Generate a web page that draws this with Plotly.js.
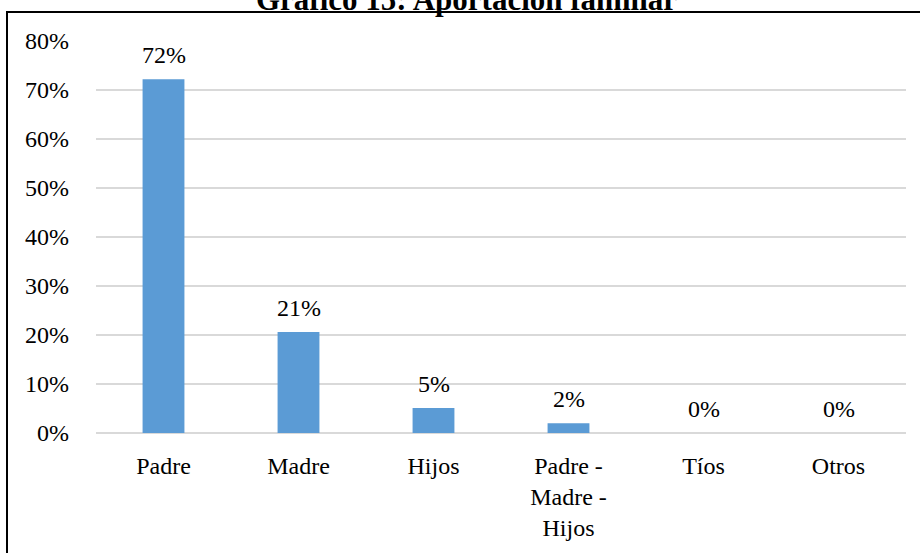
<!DOCTYPE html>
<html>
<head>
<meta charset="utf-8">
<script src="https://cdn.plot.ly/plotly-3.0.1.min.js"></script>
<style>
html,body{margin:0;padding:0;background:#fff;}
#wrap{position:relative;width:920px;height:553px;overflow:hidden;}
#chart{width:920px;height:553px;}
#frame{position:absolute;left:6px;top:11px;width:1000px;height:1000px;border-left:2px solid #000;border-top:2px solid #000;pointer-events:none;}
</style>
</head>
<body>
<div id="wrap"><div id="chart"></div><div id="frame"></div></div>
<script>
const categories = ["Padre", "Madre", "Hijos", "Padre -<br>Madre -<br>Hijos", "Tíos", "Otros"];
const values = [0.722, 0.206, 0.051, 0.020, 0, 0];
const labels = ["72%", "21%", "5%", "2%", "0%", "0%"];
const yTickVals = [0, 0.1, 0.2, 0.3, 0.4, 0.5, 0.6, 0.7, 0.8];
const yTickText = ["0%", "10%", "20%", "30%", "40%", "50%", "60%", "70%", "80%"];
const chartTitle = "Gráfico 15: Aportación familiar";

const font = "'Times New Roman', 'Liberation Serif', serif";

const trace = {
  type: "bar",
  x: categories,
  y: values,
  marker: {color: "#5b9bd5"},
  width: 0.31,
  hoverinfo: "none"
};

const annotations = categories.map((c, i) => ({
  x: c, y: values[i], xref: "x", yref: "y",
  text: labels[i], showarrow: false,
  yanchor: "bottom", yshift: 9,
  font: {family: font, size: 24, color: "#000"}
}));

annotations.push({
  xref: "paper", yref: "paper", x: 0.4568, y: 1.055,
  xanchor: "center", yanchor: "bottom",
  text: "<b>" + chartTitle + "</b>", showarrow: false,
  font: {family: font, size: 31, color: "#000"}
});

const layout = {
  width: 920, height: 553,
  margin: {l: 96, r: 14, t: 41, b: 120},
  paper_bgcolor: "#fff", plot_bgcolor: "#fff",
  showlegend: false,
  font: {family: font},
  xaxis: {
    type: "category",
    showgrid: false, zeroline: false, showline: false,
    ticks: "", ticklabelstandoff: 16,
    tickfont: {family: font, size: 24, color: "#000"}
  },
  yaxis: {
    range: [0, 0.8],
    tickvals: yTickVals, ticktext: yTickText,
    showgrid: true, gridcolor: "#d9d9d9", gridwidth: 1.5,
    zeroline: true, zerolinecolor: "#d9d9d9", zerolinewidth: 1.5,
    showline: false, ticks: "", ticklabelstandoff: 26,
    tickfont: {family: font, size: 24, color: "#000"}
  },
  annotations: annotations
};

Plotly.newPlot("chart", [trace], layout, {displayModeBar: false, staticPlot: true});
</script>
</body>
</html>
